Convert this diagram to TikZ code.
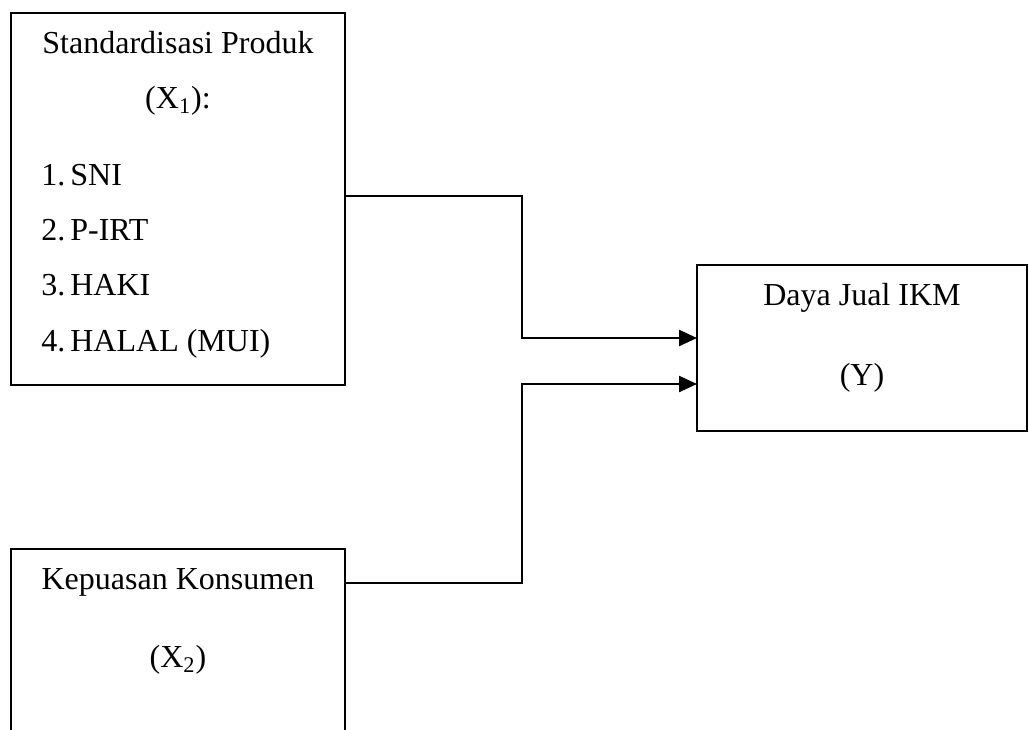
\documentclass[tikz,border=0pt]{standalone}
\usepackage{fontspec}
\setmainfont{Liberation Serif}
\usetikzlibrary{arrows.meta,positioning}

\newcommand{\itemno}[2]{\makebox[14.5pt][l]{#1}#2}

\begin{document}
\begin{tikzpicture}[
    x=0.5pt,y=-0.5pt,
    box/.style={rectangle,draw=black,line width=0.65pt,inner sep=0pt},
    txt/.style={inner sep=0pt,anchor=base,font=\fontsize{16}{19}\selectfont},
    listtxt/.style={txt,anchor=base west},
    arrow/.style={-{Triangle[length=9pt,width=8pt]},line width=1.2pt}
  ]
    \useasboundingbox (0,0) rectangle (1029,729);
    % boxes
    \node[box,minimum width=167pt,minimum height=186pt] (x1box) at (178,199) {};
    \node[box,minimum width=165pt,minimum height=83pt] (ybox) at (862,348) {};
    \node[box,minimum width=167pt,minimum height=125.5pt] (x2box) at (178,674.5) {};
    % texts of X1
    \node[txt] (x1title) at (178,53) {Standardisasi Produk};
    \node[txt] (x1sym) at (178,108) {(X\textsubscript{1}):};
    \node[listtxt] (sni) at (41,185) {\itemno{1.}{SNI}};
    \node[listtxt] (pirt) at (41,240) {\itemno{2.}{P-IRT}};
    \node[listtxt] (haki) at (41,295) {\itemno{3.}{HAKI}};
    \node[listtxt] (halal) at (41,351) {\itemno{4.}{HALAL (MUI)}};
    % texts of Y and X2
    \node[txt] (ytitle) at (862,305) {Daya Jual IKM};
    \node[txt] (ysym) at (862,385) {(Y)};
    \node[txt] (x2title) at (178,589) {Kepuasan Konsumen};
    \node[txt] (x2sym) at (178,667) {(X\textsubscript{2})};
    % connectors
    \coordinate (bend1) at (522,196);
    \coordinate (bend2) at (522,583);
    \coordinate (in1) at (697,338);
    \coordinate (in2) at (697,384);
    \draw[arrow] (x1box.east |- bend1) -- (bend1) |- (in1);
    \draw[arrow] (x2box.east |- bend2) -- (bend2) |- (in2);
  \end{tikzpicture}
\end{document}
